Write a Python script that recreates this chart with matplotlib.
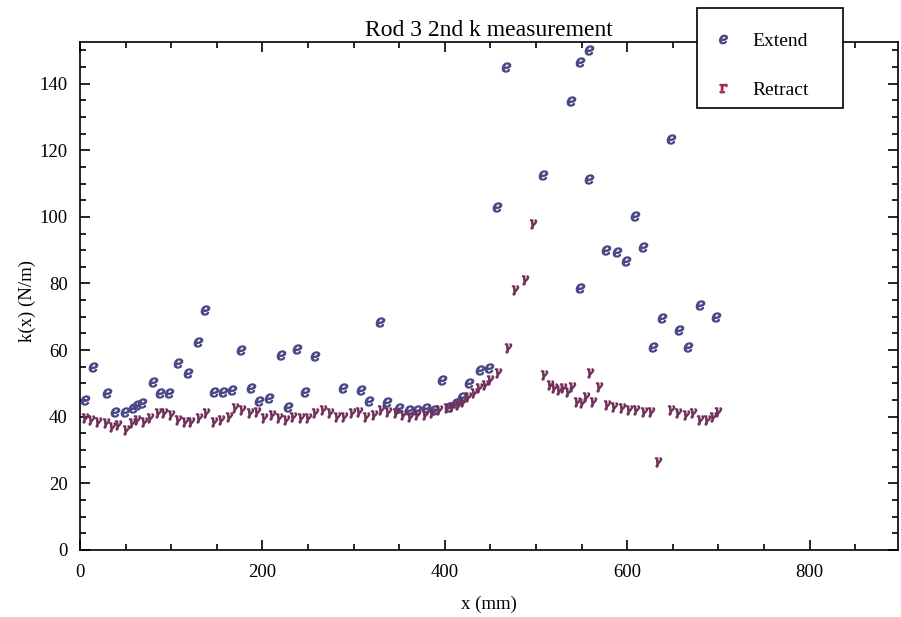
import matplotlib
matplotlib.use("Agg")
import matplotlib.pyplot as plt
from matplotlib.lines import Line2D
from matplotlib.patches import Rectangle
from matplotlib.ticker import MultipleLocator

# Extend measurements (x in mm, k in N/m)
extend_x = [6, 14, 30, 38, 49, 58, 63, 68, 80, 88, 98, 107, 118, 129, 137,
            147, 157, 167, 176, 187, 196, 207, 220, 228, 238, 247, 258, 288,
            308, 317, 329, 337, 350, 361, 370, 379, 388, 397, 405, 412, 419,
            427, 439, 449, 457, 467, 508, 538, 548, 558, 558, 548, 577, 589,
            599, 609, 617, 628, 638, 648, 657, 667, 680, 697]
extend_k = [45, 55, 47, 41.5, 41.5, 42.5, 43.5, 44, 50.5, 47, 47, 56, 53, 62.5, 72,
            47.5, 47.5, 48, 60, 48.5, 44.8, 45.5, 58.5, 43, 60.3, 47.5, 58.3, 48.5,
            48, 44.8, 68.5, 44.5, 42.5, 42, 42, 42.5, 42, 51, 43, 44, 46,
            50, 54, 54.5, 103, 145, 112.5, 134.8, 146.5, 150, 111.5, 78.5, 90, 89.6,
            86.6, 100.3, 91, 61, 69.5, 123.5, 66, 61, 73.5, 70]

# Retract measurements
retract_x = [5, 12, 20, 28, 35, 42, 50, 57, 63, 70, 77, 85, 92, 100, 108, 115,
             122, 130, 138, 147, 155, 163, 170, 178, 186, 194, 202, 210, 218,
             226, 234, 242, 250, 258, 266, 274, 282, 290, 298, 306, 314, 322,
             330, 338, 346, 354, 362, 370, 378, 386, 394, 402, 408, 414, 420,
             426, 432, 438, 444, 450, 458, 469, 477, 488, 497, 509, 515, 520,
             525, 530, 535, 540, 545, 550, 555, 559, 563, 569, 578, 586, 594,
             602, 610, 618, 626, 634, 648, 656, 664, 672, 680, 688, 694, 700]
retract_k = [39.5, 39, 38.5, 38, 37, 37.5, 36, 38, 39, 38.5, 39.5, 41, 41, 40.5,
             39, 38.5, 38.5, 39.5, 41, 38.5, 39, 40, 42.5, 42, 41, 41.5, 39.5,
             40.5, 39.5, 39, 40, 39.5, 39.5, 41, 42, 41, 40, 40, 41, 41.5, 40,
             40.5, 42, 41.5, 41, 40.5, 40, 40.5, 40.5, 41, 42, 42.5, 43, 43.5,
             44.5, 46, 47, 48.5, 49.5, 51, 53, 60.5, 78, 81, 98, 52.5, 49.5,
             48.5, 48, 48.5, 47.5, 49, 44.5, 44, 46, 53, 44.5, 49, 43.5, 43,
             42.5, 42, 42, 41.5, 41.5, 26.5, 42, 41, 40.5, 41, 39, 39, 40, 41.5]

extend_color = '#4a4a88'
retract_color = '#72305a'

plt.rcParams['font.family'] = ['Liberation Serif', 'DejaVu Serif']
plt.rcParams['mathtext.fontset'] = 'dejavuserif'

fig = plt.figure(figsize=(9.01, 6.17), dpi=100)
ax = fig.add_axes([0.0888, 0.1086, 0.9079, 0.8234])

ax.plot(extend_x, extend_k, linestyle='none', marker='$e$', markersize=6.5,
        color=extend_color)
ax.plot(retract_x, retract_k, linestyle='none', marker=r'$\gamma$', markersize=6.5,
        color=retract_color)

ax.set_xlim(0, 897)
ax.set_ylim(0, 152.5)
ax.xaxis.set_major_locator(MultipleLocator(200))
ax.xaxis.set_minor_locator(MultipleLocator(50))
ax.yaxis.set_major_locator(MultipleLocator(20))
ax.yaxis.set_minor_locator(MultipleLocator(5))
ax.tick_params(which='both', direction='in', top=True, right=True, labelsize=13.5, width=1.2)
ax.tick_params(which='major', length=7)
ax.tick_params(which='minor', length=4)
ax.tick_params(axis='x', pad=10)
ax.tick_params(axis='y', pad=9)
for s in ax.spines.values():
    s.set_linewidth(1.2)

ax.set_title('Rod 3 2nd k measurement', fontsize=17, pad=4)
ax.set_xlabel('x (mm)', fontsize=13.5)
ax.set_ylabel('k(x) (N/m)', fontsize=13.5)
ax.xaxis.set_label_coords(0.5, -0.09)
ax.yaxis.set_label_coords(-0.054, 0.49)

# legend box sits partly above the plot frame, like the original;
# frame drawn separately so its height can be fixed
box = Rectangle((697 / 901, 1 - 108 / 617), 146 / 901, 100 / 617,
                transform=fig.transFigure, facecolor='white', edgecolor='black',
                linewidth=1.2, zorder=5)
fig.patches.append(box)

handles = [Line2D([], [], linestyle='none', marker='$e$', markersize=6, color=extend_color),
           Line2D([], [], linestyle='none', marker=r'$\mathrm{r}$', markersize=6, color='#a03050')]
leg = fig.legend(handles, ['Extend', 'Retract'], loc='upper left',
                 bbox_to_anchor=(697 / 901, 1 - 108 / 617, 146 / 901, 100 / 617),
                 mode='expand', fontsize=14, frameon=False, borderpad=1.25,
                 labelspacing=1.6, handlelength=0.2, handletextpad=1.4,
                 borderaxespad=0)
leg.set_zorder(6)

plt.savefig('out.png', dpi=100)
